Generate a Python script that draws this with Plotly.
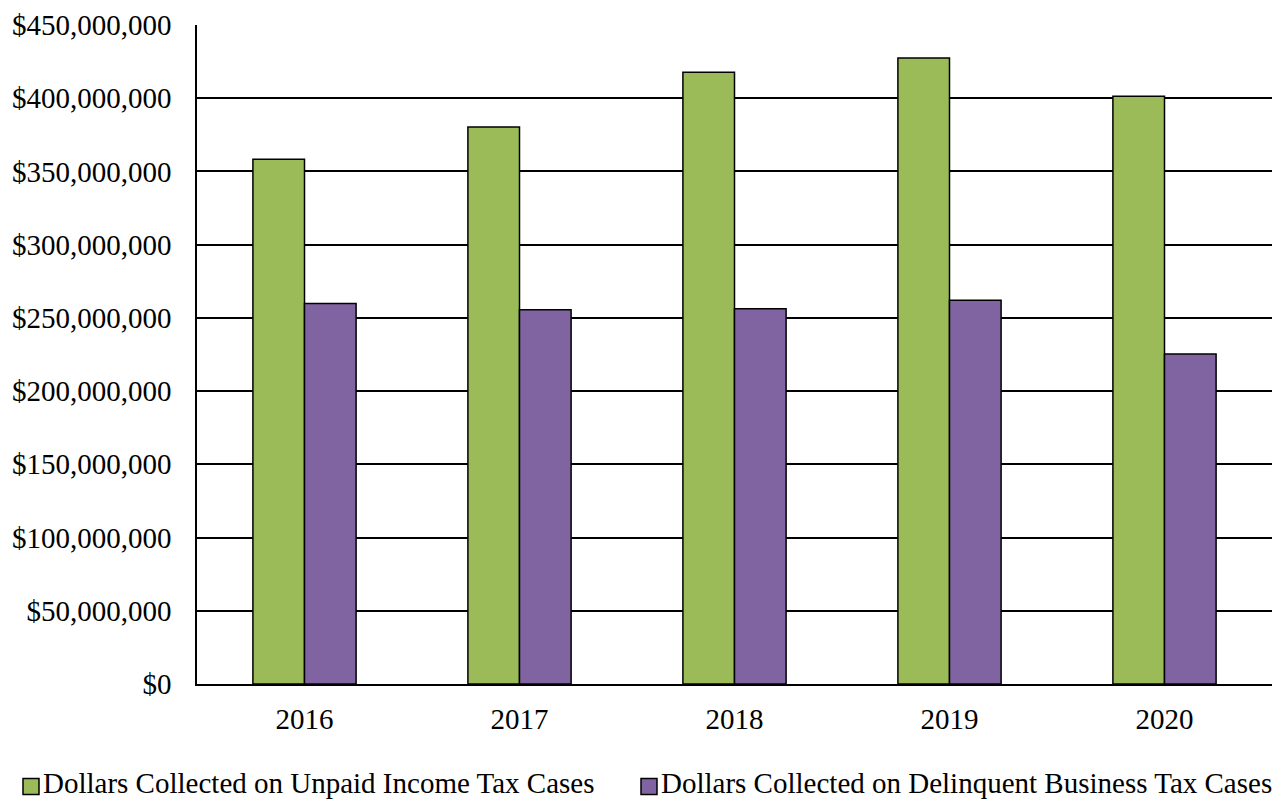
import plotly.graph_objects as go

years = ["2016", "2017", "2018", "2019", "2020"]
income_tax = [358_300_000, 380_300_000, 417_700_000, 427_500_000, 401_300_000]
business_tax = [259_900_000, 255_600_000, 256_300_000, 262_000_000, 225_300_000]
series_names = [
    "Dollars Collected on Unpaid Income Tax Cases",
    "Dollars Collected on Delinquent Business Tax Cases",
]
series_colors = ["#9BBB59", "#8064A2"]
tick_values = [0, 50_000_000, 100_000_000, 150_000_000, 200_000_000,
               250_000_000, 300_000_000, 350_000_000, 400_000_000, 450_000_000]

FONT = "Liberation Serif, Times New Roman, serif"
FONT_SIZE = 29

W, H = 1284, 801
M_L, M_R, M_T, M_B = 197, 12, 25, 117
PLOT_W = W - M_L - M_R
PLOT_H = H - M_T - M_B


def px_to_paper(px, py):
    """Convert page pixel position to paper coordinates."""
    return (px - M_L) / PLOT_W, (H - M_B - py) / PLOT_H


fig = go.Figure()
for name, values, color in zip(series_names, [income_tax, business_tax], series_colors):
    fig.add_trace(go.Bar(
        x=years, y=values, name=name,
        marker=dict(color=color, line=dict(color="black", width=1.5)),
    ))

# Legend row below the axis: swatch square followed by the series name
legend_left = [23, 641]
SWATCH = 16
SWATCH_MID_Y = 786.5
TEXT_MID_Y = 783.0
for left, name, color in zip(legend_left, series_names, series_colors):
    x0, y0 = px_to_paper(left, SWATCH_MID_Y + SWATCH / 2)
    x1, y1 = px_to_paper(left + SWATCH, SWATCH_MID_Y - SWATCH / 2)
    fig.add_shape(
        type="rect", xref="paper", yref="paper",
        x0=x0, x1=x1, y0=y0, y1=y1,
        fillcolor=color, line=dict(color="black", width=1.5),
    )
    tx, ty = px_to_paper(left + SWATCH + 3, TEXT_MID_Y)
    fig.add_annotation(
        x=tx, y=ty, xref="paper", yref="paper",
        text=name, showarrow=False, xanchor="left", yanchor="middle",
        font=dict(family=FONT, size=FONT_SIZE, color="black"),
        borderpad=0,
    )

fig.update_layout(
    width=W, height=H,
    margin=dict(l=M_L, r=M_R, t=M_T, b=M_B, autoexpand=False),
    paper_bgcolor="white", plot_bgcolor="white",
    barmode="group", bargap=0.52, bargroupgap=0,
    font=dict(family=FONT, size=FONT_SIZE, color="black"),
    showlegend=False,
)
fig.update_yaxes(
    range=[0, 450_000_000], tickvals=tick_values,
    tickformat="$,.0f",
    showgrid=True, gridcolor="black", gridwidth=1.5,
    showline=True, linecolor="black", linewidth=1.5,
    zeroline=False, ticks="", ticklabelstandoff=18,
)
fig.update_xaxes(
    showgrid=False, showline=True, linecolor="black", linewidth=1.5,
    ticks="", ticklabelstandoff=8,
)

fig.write_html("out.html")
